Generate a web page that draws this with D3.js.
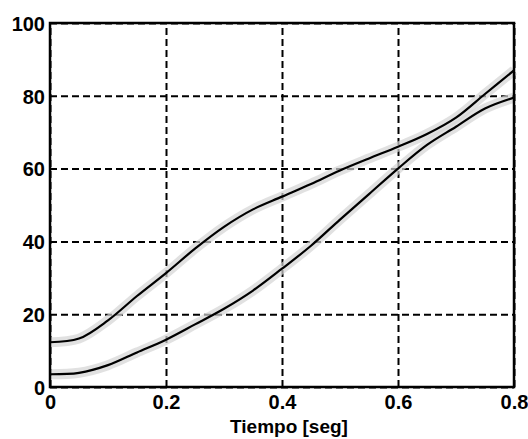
<!DOCTYPE html>
<html>
<head>
<meta charset="utf-8">
<script src="https://cdn.jsdelivr.net/npm/d3@7"></script>
<style>
  body { margin: 0; background: #fff; }
  text { font-family: "Liberation Sans", Arial, sans-serif; font-weight: bold; fill: #000; }
</style>
</head>
<body>
<script>
// tiempo [s] y las dos respuestas
const tiempo = [0, 0.05, 0.1, 0.15, 0.2, 0.25, 0.3, 0.35, 0.4, 0.45, 0.5, 0.55, 0.6, 0.65, 0.7, 0.75, 0.8]
const serieSup = [12.3, 13.3, 18.3, 25, 31.3, 38, 44, 48.8, 52.3, 55.8, 59.5, 62.8, 66, 69.5, 74, 80.5, 87]
const serieInf = [3.5, 3.9, 6, 9.5, 13, 17.2, 21.5, 26.5, 32.5, 38.8, 46, 53, 60, 66.5, 71.5, 76.5, 79.5]

const xTicks = [0, 0.2, 0.4, 0.6, 0.8]
const yTicks = [0, 20, 40, 60, 80, 100]

const W = 528, H = 439
const margin = {top: 23, right: 14, bottom: 52, left: 50}
const width = W - margin.left - margin.right
const height = H - margin.top - margin.bottom

const x = d3.scaleLinear().domain([0, 0.8]).range([0, width])
const y = d3.scaleLinear().domain([0, 100]).range([height, 0])

const svg = d3.select("body").append("svg")
    .attr("width", W)
    .attr("height", H)
  .append("g")
    .attr("transform", "translate(" + margin.left + "," + margin.top + ")")

// grilla
const xAxis = d3.axisBottom(x).tickValues(xTicks).tickSize(-height).tickPadding(8)
  .tickFormat(d => d === 0 ? "0" : d3.format(".1f")(d))
const yAxis = d3.axisLeft(y).tickValues(yTicks).tickSize(-width).tickPadding(5)

const gx = svg.append("g")
    .attr("transform", "translate(0," + height + ")")
    .call(xAxis)
gx.select(".domain").remove()

const gy = svg.append("g").call(yAxis)
gy.select(".domain").remove()

svg.selectAll(".tick line")
    .attr("stroke", "#000")
    .attr("stroke-width", 2)
    .attr("stroke-dasharray", "7,4")
svg.selectAll(".tick text")
    .style("font-size", "20px")
gy.selectAll(".tick text").attr("dy", "0.36em")

const pts = (vals) => tiempo.map((t, i) => [t, vals[i]])
const line = d3.line()
  .x(d => x(d[0]))
  .y(d => y(d[1]))
  .curve(d3.curveCatmullRom)

// banda gris de los datos medidos
;[serieSup, serieInf].forEach(v => {
  svg.append("path")
      .datum(pts(v))
      .attr("d", line)
      .attr("fill", "none")
      .attr("stroke", "#d4d4d4")
      .attr("stroke-width", 10)
      .attr("stroke-opacity", 0.7)
})

;[serieSup, serieInf].forEach(v => {
  svg.append("path")
      .datum(pts(v))
      .attr("d", line)
      .attr("fill", "none")
      .attr("stroke", "#000")
      .attr("stroke-width", 2.2)
})

// marco
svg.append("rect")
    .attr("width", width)
    .attr("height", height)
    .attr("fill", "none")
    .attr("stroke", "#000")
    .attr("stroke-width", 2.5)

svg.append("text")
    .attr("x", width / 2 + 7)
    .attr("y", height + 46)
    .attr("text-anchor", "middle")
    .style("font-size", "19px")
    .text("Tiempo [seg]")
</script>
</body>
</html>
